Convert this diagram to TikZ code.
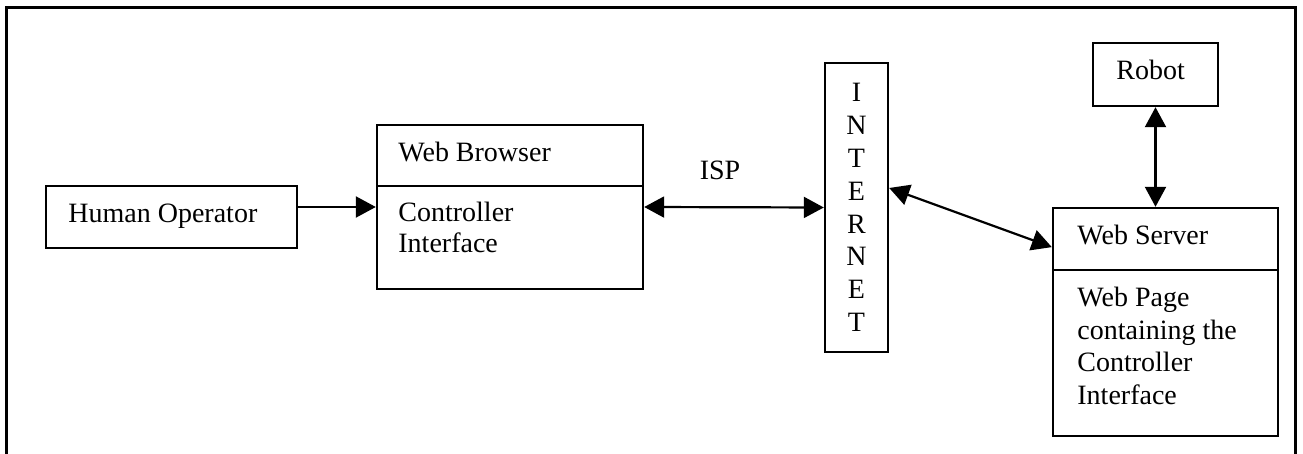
\documentclass[tikz,border=0pt]{standalone}
\usepackage{fontspec}
\setmainfont{Liberation Serif}
\usetikzlibrary{arrows.meta,calc}
\begin{document}
\begin{tikzpicture}[x=0.5pt,y=-0.5pt,
  box/.style={draw,line width=1.2pt,rectangle,inner sep=0pt},
  lbl/.style={font=\fontsize{14}{16}\selectfont,anchor=base west,inner sep=0pt},
  conn/.style={line width=1.1pt,-{Triangle[length=10pt,width=10.5pt]}},
  biconn/.style={line width=1.1pt,{Triangle[length=10pt,width=10.5pt]}-{Triangle[length=10pt,width=10.5pt]}},
  frame/.style={line width=1.5pt}]
\useasboundingbox (0,0) rectangle (1303,454);
% outer frame (open at bottom edge of picture)
\draw[frame] (6,454) -- (6,8) -- (1295,8) -- (1295,454);

% Human operator
\node[box,minimum width=125.5pt,minimum height=31pt] (human) at (171.5,217) {};
\node[lbl] (humantxt) at (68,223) {Human Operator};

% Web browser
\node[box,minimum width=133pt,minimum height=82pt] (browser) at (510,207) {};
\coordinate (bdivl) at (377,186);
\coordinate (bdivr) at (643,186);
\draw[line width=1.2pt] (bdivl) -- (bdivr);
\node[lbl] (browsertitle) at (398,162) {Web Browser};
\node[lbl] (browserl1) at (398,222) {Controller};
\node[lbl] (browserl2) at (398,253) {Interface};

% Internet
\node[box,minimum width=31.5pt,minimum height=144.5pt,align=center,
      font=\fontsize{14}{16.43}\selectfont] (internet) at (856.5,207.5)
      {I\\N\\T\\E\\R\\N\\E\\T};

% Robot
\node[box,minimum width=62.5pt,minimum height=31.5pt] (robot) at (1155.5,74.5) {};
\node[lbl] (robottxt) at (1116,80) {Robot};

% Web server
\node[box,minimum width=112.5pt,minimum height=114pt] (server) at (1165.5,322) {};
\coordinate (sdivl) at (1053,270);
\coordinate (sdivr) at (1278,270);
\draw[line width=1.2pt] (sdivl) -- (sdivr);
\node[lbl] (servertitle) at (1077,245) {Web Server};
\node[lbl] (serverl1) at (1077,307) {Web Page};
\node[lbl] (serverl2) at (1077,340) {containing the};
\node[lbl] (serverl3) at (1077,372) {Controller};
\node[lbl] (serverl4) at (1077,405) {Interface};

% ISP label
\node[font=\fontsize{14}{16}\selectfont,inner sep=0pt,anchor=base] (isp) at (720,180) {ISP};

% connectors
\draw[conn] (human.east |- browser.west) -- (browser.west);
\draw[biconn] (browser.east) -- (internet.west);
\draw[biconn] ($(internet.north east)!0.433!(internet.south east)$) -- ($(server.north west)!0.175!(server.south west)$);
\draw[biconn] (robot.south) -- (robot.south |- server.north);
\end{tikzpicture}
\end{document}
